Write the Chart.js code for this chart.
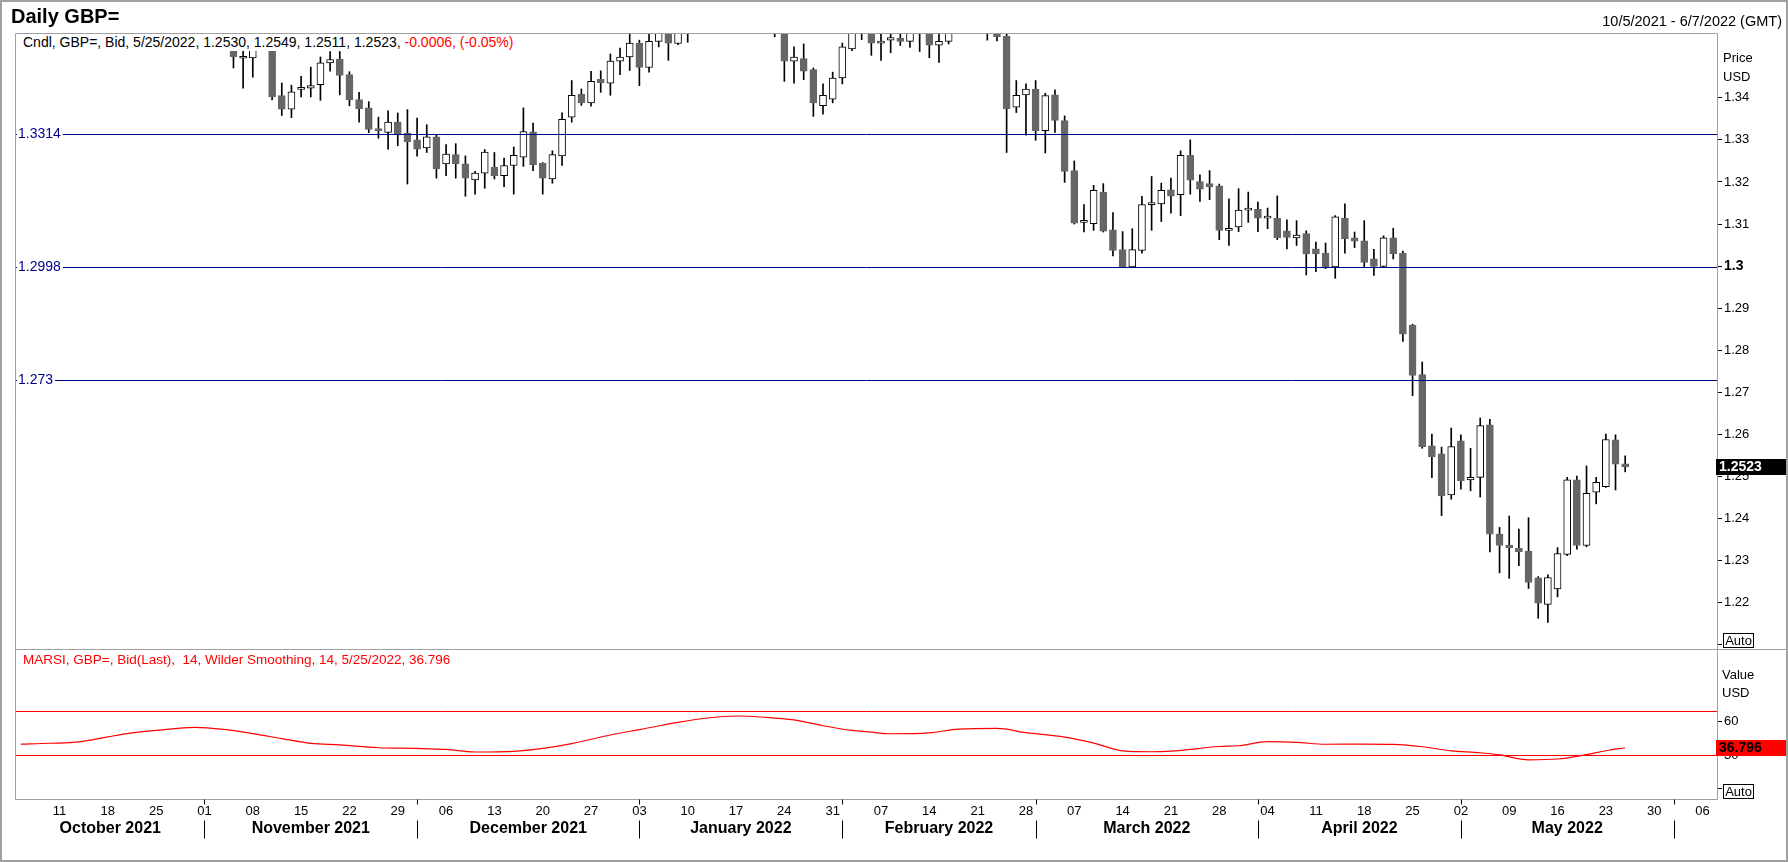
<!DOCTYPE html>
<html>
<head>
<meta charset="utf-8">
<title>Daily GBP=</title>
<script src="https://cdn.jsdelivr.net/npm/chart.js@4.4.1/dist/chart.umd.min.js"></script>
<style>
  html, body { margin: 0; padding: 0; background: #fff; }
  body { font-family: "Liberation Sans", Arial, sans-serif; }
  #wrap { position: relative; width: 1788px; height: 862px; overflow: hidden; }
  #chart { position: absolute; left: 0; top: 0; }
  #frame { position: absolute; left: 0; top: 0; width: 1788px; height: 862px; box-sizing: border-box; border: 2px solid #a0a0a0; pointer-events: none; }
  .txt { position: absolute; white-space: pre; font-size: 13px; line-height: 16px; color: #000; }
  #title { left: 11px; top: 5px; font-size: 20px; line-height: 22px; font-weight: bold; }
  #range { right: 6px; top: 13px; font-size: 14.5px; }
  #cndl { left: 17px; top: 34px; height: 17px; line-height: 17px; font-size: 14px; padding: 0 4px 0 6px; background: #fff; }
  .red { color: #ff0000; }
  #marsi { left: 23px; top: 652px; font-size: 13.5px; color: #ff0000; }
  .auto { position: absolute; left: 1723px; width: 29px; height: 13px; border: 1px solid #000; font-size: 13px; line-height: 13px; text-align: center; background: #fff; }
</style>
</head>
<body>
<div id="wrap">
  <canvas id="chart" width="1788" height="862"></canvas>
  <div class="txt" id="title">Daily GBP=</div>
  <div class="txt" id="range">10/5/2021 - 6/7/2022 (GMT)</div>
  <div class="txt" id="cndl"></div>
  <div class="txt" id="marsi"></div>
  <div class="txt" style="left:1723px;top:50px">Price</div>
  <div class="txt" style="left:1723px;top:69px">USD</div>
  <div class="txt" style="left:1722px;top:667px">Value</div>
  <div class="txt" style="left:1722px;top:685px">USD</div>
  <div class="auto" style="top:633px">Auto</div>
  <div class="auto" style="top:784px">Auto</div>
  <div id="frame"></div>
</div>
<script>
// Trading days on the axis (weekdays)
const firstDay = "2021-10-05";
const lastDay = "2022-06-07";

// Candles start where price first drops into view
const candleStart = "2021-11-04";

const opens = [
  1.3680, 1.3494,
  1.3495, 1.3530, 1.3555, 1.3405, 1.3373,
  1.3420, 1.3423, 1.3431, 1.3483, 1.3492,
  1.3455, 1.3396, 1.3376, 1.3327, 1.3318,
  1.3342, 1.3316, 1.3300, 1.3281, 1.3307,
  1.3243, 1.3265, 1.3243, 1.3205, 1.3221,
  1.3235, 1.3215, 1.3239, 1.3259, 1.3319,
  1.3245, 1.3207, 1.3262, 1.3354, 1.3409,
  1.3388, 1.3444, 1.3435, 1.3487, 1.3497,
  1.3530, 1.3472, 1.3534, 1.3570, 1.3529,
  1.3585, null, null, null, null,
  null, null, null, null, 1.3600,
  1.3560, 1.3487, 1.3493, 1.3467, 1.3381,
  1.3397, 1.3447, 1.3516, 1.3570, 1.3580,
  1.3530, 1.3537, 1.3542, 1.3534, 1.3565,
  1.3560, 1.3525, 1.3534, null, null,
  null, 1.3580, 1.3580, 1.3546, 1.3378,
  1.3407, 1.3421, 1.3322, 1.3407, 1.3346,
  1.3227, 1.3104, 1.3101, 1.3176, 1.3086,
  1.3039, 1.2998, 1.3037, 1.3146, 1.3148,
  1.3181, 1.3170, 1.3263, 1.3201, 1.3196,
  1.3191, 1.3085, 1.3093, 1.3133, 1.3135,
  1.3114, 1.3114, 1.3084, 1.3067, 1.3077,
  1.3041, 1.3031, 1.2998, 1.3114, 1.3067,
  1.3060, 1.3017, 1.2999, 1.3067, 1.3031,
  1.2860, 1.2742, 1.2573, 1.2554, 1.2456,
  1.2585, 1.2492, 1.2498, 1.2623, 1.2363,
  1.2337, 1.2329, 1.2323, 1.2259, 1.2196,
  1.2233, 1.2315, 1.2492, 1.2336, 1.2463,
  1.2476, 1.2587, 1.2530
];

const highs = [
  1.3698, 1.3525,
  1.3555, 1.3605, 1.3575, 1.3435, 1.3430,
  1.3451, 1.3473, 1.3497, 1.3510, 1.3510,
  1.3462, 1.3413, 1.3391, 1.3354, 1.3369,
  1.3364, 1.3372, 1.3352, 1.3336, 1.3313,
  1.3289, 1.3291, 1.3262, 1.3225, 1.3277,
  1.3270, 1.3257, 1.3283, 1.3376, 1.3340,
  1.3246, 1.3274, 1.3364, 1.3441, 1.3421,
  1.3463, 1.3464, 1.3504, 1.3518, 1.3555,
  1.3537, 1.3560, 1.3590, 1.3590, 1.3600,
  1.3610, null, null, null, null,
  null, null, null, null, 1.3620,
  1.3590, 1.3521, 1.3528, 1.3471, 1.3433,
  1.3461, 1.3530, 1.3590, 1.3640, 1.3620,
  1.3560, 1.3560, 1.3560, 1.3640, 1.3600,
  1.3580, 1.3560, 1.3600, null, null,
  null, 1.3620, 1.3600, 1.3560, 1.3441,
  1.3433, 1.3441, 1.3411, 1.3419, 1.3357,
  1.3250, 1.3146, 1.3192, 1.3196, 1.3127,
  1.3082, 1.3089, 1.3166, 1.3213, 1.3197,
  1.3209, 1.3274, 1.3300, 1.3217, 1.3227,
  1.3195, 1.3160, 1.3184, 1.3176, 1.3152,
  1.3138, 1.3167, 1.3110, 1.3108, 1.3084,
  1.3057, 1.3055, 1.3120, 1.3148, 1.3081,
  1.3108, 1.3040, 1.3072, 1.3090, 1.3036,
  1.2862, 1.2772, 1.2601, 1.2570, 1.2615,
  1.2599, 1.2567, 1.2639, 1.2636, 1.2379,
  1.2406, 1.2375, 1.2402, 1.2262, 1.2266,
  1.2331, 1.2498, 1.2501, 1.2525, 1.2498,
  1.2601, 1.2599, 1.2549
];

const lows = [
  1.3471, 1.3423,
  1.3449, 1.3525, 1.3395, 1.3358, 1.3353,
  1.3402, 1.3402, 1.3394, 1.3463, 1.3407,
  1.3381, 1.3342, 1.3317, 1.3304, 1.3278,
  1.3286, 1.3195, 1.3261, 1.3270, 1.3209,
  1.3215, 1.3209, 1.3166, 1.3171, 1.3185,
  1.3207, 1.3189, 1.3171, 1.3237, 1.3227,
  1.3171, 1.3197, 1.3239, 1.3342, 1.3382,
  1.3380, 1.3413, 1.3406, 1.3455, 1.3465,
  1.3429, 1.3461, 1.3521, 1.3489, 1.3526,
  1.3532, null, null, null, null,
  null, null, null, null, 1.3545,
  1.3439, 1.3435, 1.3443, 1.3356, 1.3361,
  1.3388, 1.3433, 1.3512, 1.3538, 1.3501,
  1.3489, 1.3507, 1.3524, 1.3520, 1.3510,
  1.3495, 1.3484, 1.3528, null, null,
  null, 1.3537, 1.3535, 1.3270, 1.3365,
  1.3311, 1.3299, 1.3269, 1.3318, 1.3199,
  1.3100, 1.3081, 1.3085, 1.3081, 1.3024,
  1.2998, 1.2997, 1.3031, 1.3085, 1.3106,
  1.3126, 1.3120, 1.3171, 1.3154, 1.3158,
  1.3063, 1.3049, 1.3082, 1.3104, 1.3082,
  1.3089, 1.3063, 1.3041, 1.3049, 1.2979,
  1.2987, 1.2994, 1.2971, 1.3031, 1.3044,
  1.2998, 1.2978, 1.2997, 1.3017, 1.2821,
  1.2692, 1.2567, 1.2497, 1.2407, 1.2446,
  1.2470, 1.2466, 1.2451, 1.2321, 1.2271,
  1.2258, 1.2288, 1.2234, 1.2163, 1.2153,
  1.2214, 1.2312, 1.2327, 1.2333, 1.2435,
  1.2474, 1.2468, 1.2511
];

const closes = [
  1.3498, 1.3496,
  1.3530, 1.3555, 1.3402, 1.3373, 1.3414,
  1.3422, 1.3429, 1.3483, 1.3491, 1.3453,
  1.3395, 1.3374, 1.3325, 1.3322, 1.3342,
  1.3312, 1.3296, 1.3278, 1.3307, 1.3231,
  1.3266, 1.3243, 1.3209, 1.3221, 1.3271,
  1.3215, 1.3239, 1.3263, 1.3320, 1.3241,
  1.3209, 1.3265, 1.3349, 1.3406, 1.3388,
  1.3439, 1.3436, 1.3487, 1.3497, 1.3530,
  1.3472, 1.3534, 1.3570, 1.3530, 1.3580,
  1.3570, null, null, null, null,
  null, null, null, null, 1.3558,
  1.3487, 1.3497, 1.3463, 1.3388, 1.3406,
  1.3447, 1.3521, 1.3570, 1.3590, 1.3530,
  1.3535, 1.3543, 1.3534, 1.3565, 1.3560,
  1.3525, 1.3534, 1.3575, null, null,
  null, 1.3570, 1.3545, 1.3374, 1.3406,
  1.3421, 1.3322, 1.3405, 1.3346, 1.3225,
  1.3102, 1.3106, 1.3180, 1.3083, 1.3037,
  1.2998, 1.3039, 1.3146, 1.3149, 1.3180,
  1.3166, 1.3263, 1.3204, 1.3183, 1.3189,
  1.3085, 1.3088, 1.3133, 1.3135, 1.3114,
  1.3115, 1.3067, 1.3068, 1.3074, 1.3029,
  1.3029, 1.2997, 1.3117, 1.3065, 1.3059,
  1.3009, 1.2999, 1.3067, 1.3029, 1.2838,
  1.2740, 1.2571, 1.2547, 1.2454, 1.2571,
  1.2490, 1.2498, 1.2621, 1.2363, 1.2336,
  1.2331, 1.2321, 1.2248, 1.2199, 1.2260,
  1.2317, 1.2492, 1.2336, 1.2460, 1.2486,
  1.2588, 1.2529, 1.2523
];

// Horizontal levels drawn across the price panel
const levels = [1.3314, 1.2998, 1.273];
const levelLabels = ["1.3314", "1.2998", "1.273"];

// MARSI (14, Wilder smoothing)
const rsiDays = [
  "2021-10-05", "2021-10-08", "2021-10-13", "2021-10-18", "2021-10-20",
  "2021-10-25", "2021-10-29", "2021-11-03", "2021-11-08", "2021-11-11",
  "2021-11-16", "2021-11-19", "2021-11-25", "2021-12-01", "2021-12-06",
  "2021-12-09", "2021-12-15", "2021-12-20", "2021-12-23", "2021-12-29",
  "2022-01-03", "2022-01-07", "2022-01-12", "2022-01-17", "2022-01-20",
  "2022-01-25", "2022-01-28", "2022-02-02", "2022-02-04", "2022-02-08",
  "2022-02-14", "2022-02-17", "2022-02-23", "2022-02-28", "2022-03-04",
  "2022-03-09", "2022-03-14", "2022-03-17", "2022-03-21", "2022-03-28",
  "2022-03-30", "2022-04-04", "2022-04-07", "2022-04-12", "2022-04-18",
  "2022-04-21", "2022-04-26", "2022-04-29", "2022-05-04", "2022-05-06",
  "2022-05-11", "2022-05-16", "2022-05-19", "2022-05-23", "2022-05-25"
];
const rsiValues = [
  40.1, 40.8, 42.0, 46.5, 49.5,
  52.3, 55.1, 53.3, 49.5, 45.0,
  40.7, 39.3, 36.8, 36.2, 35.3,
  33.0, 33.6, 36.2, 40.5, 48.2,
  53.0, 59.5, 63.4, 65.2, 64.1,
  61.7, 56.5, 52.3, 50.8, 49.3,
  50.1, 53.5, 54.1, 50.3, 46.3,
  41.0, 34.0, 33.2, 33.7, 37.9,
  38.6, 42.2, 41.6, 39.9, 40.1,
  39.8, 37.7, 34.0, 32.3, 30.4,
  26.0, 26.7, 30.6, 34.1, 36.796
];
const rsiBands = [70, 30];

const monthNames = ["January", "February", "March", "April", "May", "June",
  "July", "August", "September", "October", "November", "December"];

const FONT = '"Liberation Sans", Arial, sans-serif';
const LEVEL_COLOR = "#00008b";
const DOWN_COLOR = "#666666";

// Build the category list
const days = [];
for (let d = new Date(firstDay + "T00:00:00Z"); d <= new Date(lastDay + "T00:00:00Z"); d.setUTCDate(d.getUTCDate() + 1)) {
  const wd = d.getUTCDay();
  if (wd !== 0 && wd !== 6) days.push(d.toISOString().slice(0, 10));
}

const start = days.indexOf(candleStart);
function candleAt(i) {
  const k = i - start;
  if (k < 0 || k >= opens.length || opens[k] == null) return null;
  return { o: opens[k], h: highs[k], l: lows[k], c: closes[k] };
}
const wickData = days.map((_, i) => {
  const c = candleAt(i);
  return c ? [c.l, c.h] : null;
});
const bodyData = days.map((_, i) => {
  const c = candleAt(i);
  return c ? [Math.min(c.o, c.c), Math.max(c.o, c.c)] : null;
});
const isUp = i => {
  const c = candleAt(i);
  return c ? c.c >= c.o : true;
};
const rsiData = rsiDays.map((d, k) => ({ x: d, y: rsiValues[k] }));

// Header texts
const n = closes.length - 1;
const lastDate = new Date(days[start + n] + "T00:00:00Z");
const dateText = (lastDate.getUTCMonth() + 1) + "/" + lastDate.getUTCDate() + "/" + lastDate.getUTCFullYear();
const chg = closes[n] - closes[n - 1];
const pct = chg / closes[n - 1] * 100;
document.getElementById("cndl").innerHTML =
  "Cndl, GBP=, Bid, " + dateText + ", " + opens[n].toFixed(4) + ", " + highs[n].toFixed(4) + ", " +
  lows[n].toFixed(4) + ", " + closes[n].toFixed(4) + ", " +
  '<span class="red">' + chg.toFixed(4) + ", (" + pct.toFixed(2) + "%)</span>";
const lastRsi = rsiValues[rsiValues.length - 1];
document.getElementById("marsi").textContent =
  "MARSI, GBP=, Bid(Last),  14, Wilder Smoothing, 14, " + dateText + ", " + lastRsi.toFixed(3);

const isBoldTick = ctx => !!(ctx && ctx.tick && Math.abs(ctx.tick.value - 1.3) < 1e-6);

// Frame, levels, month row and value boxes
const panelDecor = {
  id: "panelDecor",
  afterDatasetsDraw(chart) {
    const { ctx, chartArea: a, scales } = chart;
    const py = scales.y, ry = scales.rsi;
    ctx.save();
    ctx.lineWidth = 1;

    ctx.strokeStyle = LEVEL_COLOR;
    levels.forEach(v => {
      const yy = Math.round(py.getPixelForValue(v)) + 0.5;
      ctx.beginPath();
      ctx.moveTo(a.left, yy);
      ctx.lineTo(a.right, yy);
      ctx.stroke();
    });
    ctx.font = "14px " + FONT;
    ctx.textBaseline = "middle";
    levels.forEach((v, k) => {
      const yy = py.getPixelForValue(v);
      const w = ctx.measureText(levelLabels[k]).width;
      ctx.fillStyle = "#fff";
      ctx.fillRect(a.left + 1, yy - 7, w + 3, 14);
      ctx.fillStyle = LEVEL_COLOR;
      ctx.fillText(levelLabels[k], a.left + 2, yy + 0.5);
    });

    ctx.strokeStyle = "#ff0000";
    rsiBands.forEach(v => {
      const yy = Math.round(ry.getPixelForValue(v)) + 0.5;
      ctx.beginPath();
      ctx.moveTo(a.left, yy);
      ctx.lineTo(a.right, yy);
      ctx.stroke();
    });
    ctx.restore();
  },
  afterDraw(chart) {
    const { ctx, chartArea: a, scales } = chart;
    const py = scales.y, ry = scales.rsi, xs = scales.x;
    ctx.save();
    ctx.lineWidth = 1;

    // panel frame
    const L = Math.round(a.left) - 0.5, R = Math.round(a.right) + 0.5;
    const T = Math.round(a.top) + 0.5, B = Math.round(a.bottom) + 0.5;
    const S = Math.round(py.bottom) + 0.5;
    ctx.strokeStyle = "#a0a0a0";
    ctx.beginPath();
    ctx.moveTo(L, T); ctx.lineTo(L, B); ctx.lineTo(R, B); ctx.lineTo(R, T); ctx.lineTo(L, T);
    ctx.moveTo(L, S); ctx.lineTo(chart.width, S);
    ctx.stroke();

    // month row
    const starts = [];
    days.forEach((d, i) => {
      if (i === 0 || d.slice(5, 7) !== days[i - 1].slice(5, 7)) starts.push(i);
    });
    ctx.strokeStyle = "#000";
    ctx.fillStyle = "#000";
    ctx.font = "bold 16px " + FONT;
    ctx.textAlign = "center";
    ctx.textBaseline = "middle";
    starts.forEach((s, k) => {
      const x0 = k === 0 ? a.left : xs.getPixelForValue(s);
      const x1 = k + 1 < starts.length ? xs.getPixelForValue(starts[k + 1]) : a.right;
      if (k > 0) {
        const xx = Math.round(x0) + 0.5;
        ctx.beginPath();
        ctx.moveTo(xx, B); ctx.lineTo(xx, B + 5);
        ctx.moveTo(xx, B + 21); ctx.lineTo(xx, B + 39);
        ctx.stroke();
      }
      if (x1 - x0 > 110) {
        const m = +days[s].slice(5, 7) - 1;
        ctx.fillText(monthNames[m] + " " + days[s].slice(0, 4), (x0 + x1) / 2, B + 29);
      }
    });

    // last value boxes
    ctx.textAlign = "left";
    ctx.font = "bold 14px " + FONT;
    const yb = Math.round(py.getPixelForValue(closes[n]));
    ctx.fillStyle = "#000";
    ctx.fillRect(a.right - 1, yb - 8, chart.width - a.right + 1, 16);
    ctx.fillStyle = "#fff";
    ctx.fillText(closes[n].toFixed(4), a.right + 2, yb + 0.5);

    const yr = Math.round(ry.getPixelForValue(lastRsi));
    ctx.fillStyle = "#ff0000";
    ctx.fillRect(a.right - 1, yr - 8, chart.width - a.right + 1, 16);
    ctx.fillStyle = "#000";
    ctx.fillText(lastRsi.toFixed(3), a.right + 2, yr + 0.5);
    ctx.restore();
  }
};

Chart.defaults.font.family = FONT;

new Chart(document.getElementById("chart"), {
  type: "bar",
  data: {
    labels: days,
    datasets: [
      {
        label: "Wick",
        data: wickData,
        yAxisID: "y",
        grouped: false,
        barThickness: 1,
        backgroundColor: "#000",
        borderWidth: 0,
        clip: 0,
        order: 3
      },
      {
        label: "Body",
        data: bodyData,
        yAxisID: "y",
        grouped: false,
        barThickness: 7,
        minBarLength: 2,
        backgroundColor: ctx => (isUp(ctx.dataIndex) ? "#ffffff" : DOWN_COLOR),
        borderColor: ctx => (isUp(ctx.dataIndex) ? "#000000" : DOWN_COLOR),
        borderWidth: 1,
        borderSkipped: false,
        clip: 0,
        order: 2
      },
      {
        type: "line",
        label: "MARSI",
        data: rsiData,
        yAxisID: "rsi",
        borderColor: "#ff0000",
        borderWidth: 1.2,
        pointRadius: 0,
        cubicInterpolationMode: "monotone",
        order: 1
      }
    ]
  },
  options: {
    responsive: false,
    animation: false,
    devicePixelRatio: 1,
    layout: { padding: { left: 16, top: 33, right: 0, bottom: 0 } },
    plugins: {
      legend: { display: false },
      tooltip: { enabled: false }
    },
    scales: {
      x: {
        type: "category",
        offset: true,
        grid: { display: false, drawTicks: false },
        border: { display: false },
        ticks: {
          autoSkip: false,
          maxRotation: 0,
          padding: 5,
          color: "#000",
          font: { size: 13 },
          callback(value) {
            const d = new Date(this.getLabelForValue(value) + "T00:00:00Z");
            return d.getUTCDay() === 1 ? String(d.getUTCDate()).padStart(2, "0") : "";
          }
        },
        afterFit(scale) { scale.height = 63; }
      },
      y: {
        position: "right",
        stack: "panes",
        stackWeight: 616,
        beginAtZero: false,
        min: 1.2090,
        max: 1.3554,
        grid: { drawOnChartArea: false, drawTicks: true, tickLength: 5, color: "#000" },
        border: { display: false },
        ticks: {
          stepSize: 0.01,
          includeBounds: false,
          padding: 2,
          color: "#000",
          font: ctx => ({ size: isBoldTick(ctx) ? 14 : 13, weight: isBoldTick(ctx) ? "bold" : "normal" }),
          callback: v => (v > 1.345 ? null : v < 1.215 ? "" : String(+v.toFixed(2)))
        },
        afterFit(scale) { scale.width = 71; }
      },
      rsi: {
        position: "right",
        stack: "panes",
        stackWeight: 150,
        min: -9.1,
        max: 125.2,
        grid: { drawOnChartArea: false, drawTicks: true, tickLength: 5, color: "#000" },
        border: { display: false },
        ticks: {
          stepSize: 30,
          includeBounds: false,
          padding: 2,
          color: "#000",
          font: { size: 13 },
          callback: v => (v > 75 ? null : v < 15 ? "" : String(v))
        },
        afterFit(scale) { scale.width = 71; }
      }
    }
  },
  plugins: [panelDecor]
});
</script>
</body>
</html>
